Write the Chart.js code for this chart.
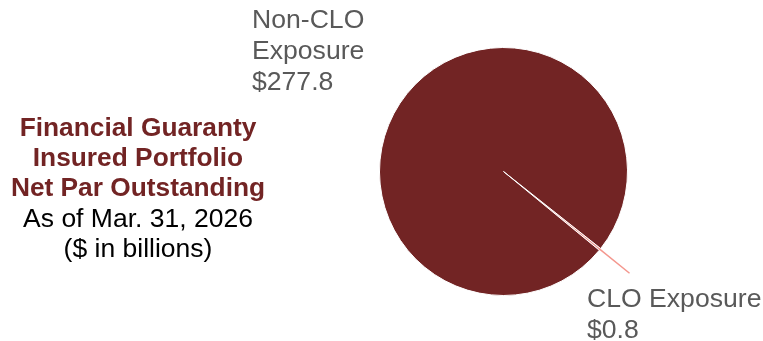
<!DOCTYPE html>
<html>
<head>
<meta charset="utf-8">
<script src="https://cdn.jsdelivr.net/npm/chart.js@4/dist/chart.umd.min.js"></script>
<style>
  html, body { margin: 0; padding: 0; background: #ffffff; }
  #wrap { position: relative; width: 763px; height: 341px; }
  canvas { display: block; }
</style>
</head>
<body>
<div id="wrap"><canvas id="pie" width="763" height="341"></canvas></div>
<script>
// Portfolio segments ($ in billions)
const categories = ['CLO Exposure', 'Non-CLO Exposure'];
const values = [0.8, 277.8];
const valueLabels = ['$0.8', '$277.8'];
const sliceColors = ['#F4978E', '#722424'];

const titleLines = ['Financial Guaranty', 'Insured Portfolio', 'Net Par Outstanding'];
const subtitleLines = ['As of Mar. 31, 2026', '($ in billions)'];

const FONT = '"Liberation Sans", Arial, Helvetica, sans-serif';

// Leader line for the thin CLO slice, plus the two slice labels and the side title
const annotations = {
  id: 'annotations',
  afterDatasetsDraw(chart) {
    const ctx = chart.ctx;
    const arcs = chart.getDatasetMeta(0).data;
    const clo = arcs[0];
    const mid = (clo.startAngle + clo.endAngle) / 2;
    const r = clo.outerRadius;
    ctx.save();
    ctx.strokeStyle = '#F4978E';
    ctx.lineWidth = 1.5;
    ctx.beginPath();
    ctx.moveTo(clo.x + Math.cos(mid) * (r - 2), clo.y + Math.sin(mid) * (r - 2));
    ctx.lineTo(clo.x + Math.cos(mid) * (r + 38), clo.y + Math.sin(mid) * (r + 38));
    ctx.stroke();

    // slice labels
    ctx.fillStyle = '#595959';
    ctx.font = '26.6px ' + FONT;
    ctx.textAlign = 'left';
    ctx.textBaseline = 'alphabetic';
    ['Non-CLO', 'Exposure', valueLabels[1]].forEach((t, i) => ctx.fillText(t, 252, 28 + i * 31));
    [categories[0], valueLabels[0]].forEach((t, i) => ctx.fillText(t, 587, 307 + i * 30.5));

    // side title
    ctx.textAlign = 'center';
    ctx.fillStyle = '#722424';
    ctx.font = 'bold 26.3px ' + FONT;
    titleLines.forEach((t, i) => ctx.fillText(t, 138, 136 + i * 30));
    ctx.fillStyle = '#000000';
    ctx.font = '26.5px ' + FONT;
    subtitleLines.forEach((t, i) => ctx.fillText(t, 138, 227 + i * 30));
    ctx.restore();
  }
};

new Chart(document.getElementById('pie'), {
  type: 'pie',
  data: {
    labels: categories,
    datasets: [{
      data: values,
      backgroundColor: sliceColors,
      borderColor: '#ffffff',
      borderWidth: 1
    }]
  },
  options: {
    responsive: false,
    animation: false,
    rotation: 128.4,
    layout: { padding: { left: 379, right: 135, top: 47, bottom: 45 } },
    plugins: {
      legend: { display: false },
      tooltip: { enabled: false }
    }
  },
  plugins: [annotations]
});
</script>
</body>
</html>
